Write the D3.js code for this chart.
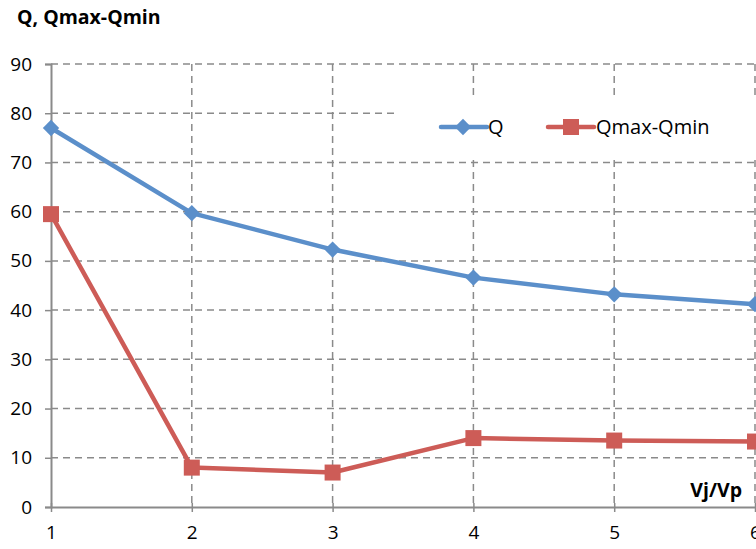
<!DOCTYPE html>
<html>
<head>
<meta charset="utf-8">
<script src="https://cdn.jsdelivr.net/npm/d3@7"></script>
<style>
  body { margin: 0; background: #fff; }
  text { font-family: 'Open Sans', sans-serif; fill: #000; }
</style>
</head>
<body>
<div id="chart"></div>
<script>
const xValues = [1, 2, 3, 4, 5, 6]
const qValues = [77, 59.7, 52.3, 46.6, 43.2, 41.2]
const spreadValues = [59.5, 8, 7, 14, 13.5, 13.3]
const yTicks = [0, 10, 20, 30, 40, 50, 60, 70, 80, 90]

const width = 756
const height = 549

const svg = d3
  .select('#chart')
  .append('svg')
  .attr('width', width)
  .attr('height', height)

const xScale = d3.scaleLinear().domain([1, 6]).range([51, 755])
const yScale = d3.scaleLinear().domain([0, 90]).range([507, 64])

const gridColor = '#8a8a8a'

// horizontal grid
svg
  .append('g')
  .selectAll('line')
  .data(yTicks.slice(1))
  .enter()
  .append('line')
  .attr('x1', 51)
  .attr('x2', width)
  .attr('y1', d => yScale(d))
  .attr('y2', d => yScale(d))
  .attr('stroke', gridColor)
  .attr('stroke-width', 1.5)
  .attr('stroke-dasharray', '7,5')

// vertical grid
svg
  .append('g')
  .selectAll('line')
  .data(xValues.slice(1))
  .enter()
  .append('line')
  .attr('x1', d => xScale(d))
  .attr('x2', d => xScale(d))
  .attr('y1', 64)
  .attr('y2', 507)
  .attr('stroke', gridColor)
  .attr('stroke-width', 1.5)
  .attr('stroke-dasharray', '7,5')

// axes
const yAxis = d3
  .axisLeft(yScale)
  .tickValues(yTicks)
  .tickFormat(d3.format('d'))
  .tickSize(6)
  .tickPadding(13)

svg
  .append('g')
  .attr('class', 'y-axis')
  .attr('transform', 'translate(51,0)')
  .call(yAxis)

const xAxis = d3
  .axisBottom(xScale)
  .tickValues(xValues)
  .tickFormat(d3.format('d'))
  .tickSizeInner(5)
  .tickSizeOuter(0)
  .tickPadding(14)

svg
  .append('g')
  .attr('class', 'x-axis')
  .attr('transform', 'translate(0,507)')
  .call(xAxis)

svg.selectAll('.x-axis .tick line').attr('y1', -4)

svg.selectAll('.y-axis .domain, .x-axis .domain')
  .attr('stroke', gridColor)
  .attr('stroke-width', 2)
svg.selectAll('.y-axis .tick line, .x-axis .tick line')
  .attr('stroke', gridColor)
  .attr('stroke-width', 1.5)
svg.selectAll('.y-axis text, .x-axis text')
  .style('font-family', "'Open Sans', sans-serif")
  .style('font-size', '19px')
  .attr('fill', '#111')

// legend background covers the grid
svg
  .append('rect')
  .attr('x', 397)
  .attr('y', 97)
  .attr('width', 370)
  .attr('height', 60)
  .attr('fill', '#fff')

const line = d3
  .line()
  .x((d, i) => xScale(xValues[i]))
  .y(d => yScale(d))

const blue = '#5b8fca'
const red = '#cd5c57'

svg
  .append('path')
  .datum(spreadValues)
  .attr('d', line)
  .attr('fill', 'none')
  .attr('stroke', red)
  .attr('stroke-width', 4.5)
  .attr('stroke-linejoin', 'round')

svg
  .append('path')
  .datum(qValues)
  .attr('d', line)
  .attr('fill', 'none')
  .attr('stroke', blue)
  .attr('stroke-width', 4.5)
  .attr('stroke-linejoin', 'round')

const diamond = d3.symbol().type(d3.symbolDiamond2).size(170)

svg
  .append('g')
  .selectAll('path')
  .data(qValues)
  .enter()
  .append('path')
  .attr('d', diamond)
  .attr('transform', (d, i) => 'translate(' + xScale(xValues[i]) + ',' + yScale(d) + ')')
  .attr('fill', blue)

svg
  .append('g')
  .selectAll('rect')
  .data(spreadValues)
  .enter()
  .append('rect')
  .attr('x', (d, i) => xScale(xValues[i]) - 8)
  .attr('y', d => yScale(d) - 8)
  .attr('width', 16)
  .attr('height', 16)
  .attr('fill', red)

// legend
const legend = svg.append('g')

legend
  .append('line')
  .attr('x1', 441)
  .attr('x2', 487)
  .attr('y1', 127)
  .attr('y2', 127)
  .attr('stroke', blue)
  .attr('stroke-width', 4.5)
  .attr('stroke-linecap', 'round')
legend
  .append('path')
  .attr('d', diamond)
  .attr('transform', 'translate(463,127)')
  .attr('fill', blue)
legend
  .append('text')
  .attr('x', 488)
  .attr('y', 134)
  .style('font-size', '20px')
  .text('Q')

legend
  .append('line')
  .attr('x1', 548)
  .attr('x2', 594)
  .attr('y1', 127)
  .attr('y2', 127)
  .attr('stroke', red)
  .attr('stroke-width', 4.5)
  .attr('stroke-linecap', 'round')
legend
  .append('rect')
  .attr('x', 563)
  .attr('y', 119)
  .attr('width', 16)
  .attr('height', 16)
  .attr('fill', red)
legend
  .append('text')
  .attr('x', 596)
  .attr('y', 134)
  .style('font-size', '20px')
  .text('Qmax-Qmin')

// titles
svg
  .append('text')
  .attr('x', 17)
  .attr('y', 24)
  .style('font-size', '19.5px')
  .style('font-weight', 'bold')
  .text('Q, Qmax-Qmin')

svg
  .append('text')
  .attr('x', 742)
  .attr('y', 497)
  .attr('text-anchor', 'end')
  .style('font-size', '19.5px')
  .style('font-weight', 'bold')
  .text('Vj/Vp')
</script>
</body>
</html>
